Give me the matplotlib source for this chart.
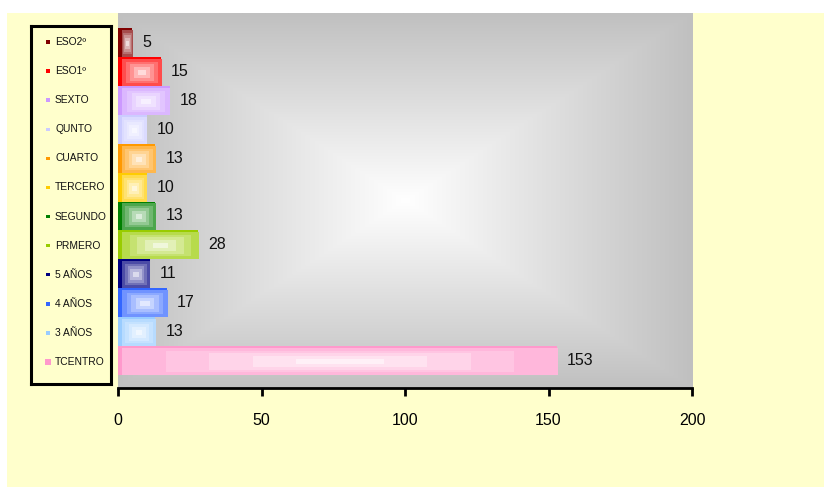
import numpy as np
import matplotlib
matplotlib.use('Agg')
import matplotlib.pyplot as plt
import matplotlib.colors as mcolors
from matplotlib.patches import Rectangle

plt.rcParams['font.family'] = ['Liberation Sans', 'DejaVu Sans']

# data (bottom to top)
categories = ['TCENTRO', '3 AÑOS', '4 AÑOS', '5 AÑOS', 'PRMERO', 'SEGUNDO',
              'TERCERO', 'CUARTO', 'QUNTO', 'SEXTO', 'ESO1º', 'ESO2º']
values = [153, 13, 17, 11, 28, 13, 10, 13, 10, 18, 15, 5]
colors = ['#FF99CC', '#99CCFF', '#3366FF', '#000080', '#99CC00', '#008000',
          '#FFCC00', '#FF9900', '#CCCCFF', '#CC99FF', '#FF0000', '#800000']
xticks = [0, 50, 100, 150, 200]

W, H = 824, 487
yellow = '#FFFFCC'


def grad_img(color, n=40, levels=5, hi=0.7):
    # rectangular "from centre" gradient: colour at the edges, white in the middle
    rgb = np.array(mcolors.to_rgb(color))
    u = np.linspace(-1, 1, n)
    U, V = np.meshgrid(u, u)
    t = np.maximum(np.abs(U), np.abs(V))
    t = np.ceil(t * levels) / levels
    a = hi * t
    return 1 - a[..., None] * (1 - rgb)


fig = plt.figure(figsize=(W / 100, H / 100), dpi=100)
fig.patch.set_facecolor('white')
fig.add_artist(Rectangle((7 / W, 0), 1, (H - 13) / H, transform=fig.transFigure,
                         facecolor=yellow, edgecolor='none', zorder=0))

# main plot area
ax = fig.add_axes([118 / W, (H - 388) / H, 574 / W, 375 / H])
ax.set_facecolor('#C0C0C0')

# background gradient of plot area
n = 300
u = np.linspace(-1, 1, n)
U, V = np.meshgrid(u, u)
t = np.maximum(np.abs(U), np.abs(V))
bg = 1 - t[..., None] * (1 - np.array(mcolors.to_rgb('#C0C0C0')))
ax.imshow(bg, extent=[0, 1, 0, 1], transform=ax.transAxes, aspect='auto',
          interpolation='bilinear', zorder=0)

ypos = np.arange(len(categories))
ax.barh(ypos, values, height=1.0, color=colors, edgecolor='none', zorder=2)

dx, dy = 1.3, 0.1
for y, v, c in zip(ypos, values, colors):
    ax.imshow(grad_img(c), extent=[min(dx, v * 0.3), v, y - 0.5, y + 0.5 - dy],
              aspect='auto', interpolation='nearest', zorder=3)
    ax.annotate(str(v), (v, y), xytext=(10, 0), textcoords='offset pixels',
                va='center', ha='left', fontsize=11.5, color='#111111')

ax.set_xlim(0, 200)
ax.set_ylim(-0.95, 12.02)
ax.set_xticks(xticks)
ax.set_yticks([])
for s in ['left', 'top', 'right']:
    ax.spines[s].set_visible(False)
ax.spines['bottom'].set_linewidth(2)
ax.tick_params(axis='x', length=6, width=2, pad=12, labelsize=11.5)

# legend box
lax = fig.add_axes([31 / W, (H - 384) / H, 80 / W, 358 / H])
lax.set_facecolor(yellow)
lax.set_xlim(0, 80)
lax.set_ylim(358, 0)
lax.set_xticks([])
lax.set_yticks([])
for s in lax.spines.values():
    s.set_linewidth(2.2)
row0, step = 16, (336 - 16) / (len(categories) - 1)
for i, (lab, c) in enumerate(zip(categories[::-1], colors[::-1])):
    yy = row0 + i * step
    size = 5.5 if lab == 'TCENTRO' else 3.5
    lax.add_patch(Rectangle((17 - size / 2, yy - size / 2), size, size,
                            facecolor=c, edgecolor='none'))
    lax.text(24, yy, lab, va='center', ha='left', fontsize=7.4, color='#111111')

fig.savefig('out.png', dpi=100)
